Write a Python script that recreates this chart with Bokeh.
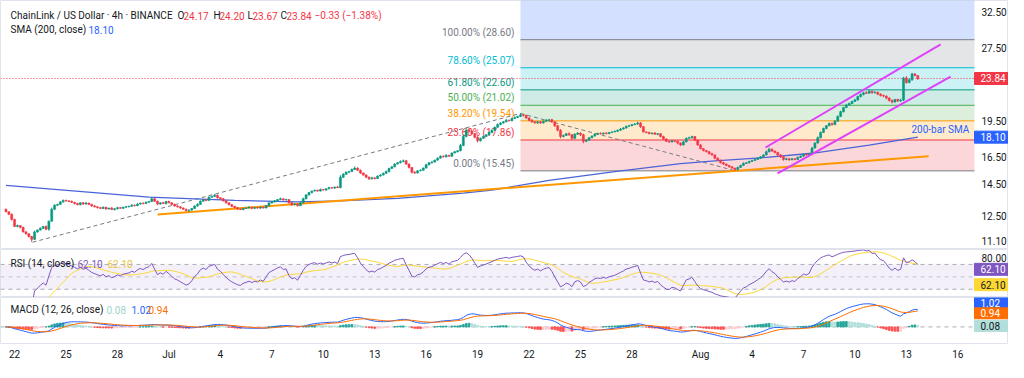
import numpy as np
import pandas as pd
from bokeh.plotting import figure
from bokeh.layouts import column
from bokeh.models import (ColumnDataSource, Range1d, FixedTicker, PrintfTickFormatter,
                          Label, LinearAxis, LogAxis)
from bokeh.core.properties import value
from bokeh.embed import file_html
from bokeh.resources import INLINE

# ---------------- data (4h candles, LINK/USD, 21 Jun 12:00 .. 13 Aug 16:00) ----------------
first_open = 12.9
closes = [
    12.75, 12.6, 12.3, 11.9, 11.95, 11.85, 11.6, 11.5, 11.35, 11.2,
    11.6, 11.7, 11.8, 11.9, 11.75, 12.2, 12.9, 13.15, 13.2, 13.35,
    13.45, 13.42, 13.38, 13.32, 13.25, 13.18, 13.3, 13.22, 13.28, 13.2,
    13.1, 13.05, 13.0, 12.95, 13.02, 12.92, 12.97, 12.88, 12.93, 13.0,
    12.96, 13.03, 13.06, 13.08, 13.15, 13.12, 13.22, 13.28, 13.25, 13.33,
    13.38, 13.55, 13.4, 13.22, 13.3, 13.25, 13.38, 13.3, 13.2, 13.1,
    13.05, 12.98, 12.9, 12.82, 12.85, 12.95, 13.1, 13.2, 13.4, 13.5,
    13.45, 13.65, 13.7, 13.78, 13.62, 13.55, 13.42, 13.3, 13.18, 13.08,
    13.0, 12.92, 12.88, 12.95, 12.98, 13.02, 12.96, 13.0, 12.97, 13.03,
    12.98, 13.12, 13.28, 13.35, 13.42, 13.5, 13.55, 13.48, 13.5, 13.3,
    13.18, 13.22, 13.12, 13.3, 13.55, 13.8, 13.95, 14.05, 14.1, 14.05,
    14.15, 14.12, 14.2, 14.28, 14.25, 14.32, 14.28, 15.0, 15.2, 15.35,
    15.4, 15.55, 15.65, 15.5, 15.3, 15.15, 15.0, 14.88, 14.95, 14.9,
    15.08, 15.15, 15.28, 15.4, 15.62, 15.75, 15.95, 16.05, 16.15, 16.2,
    15.95, 15.7, 15.35, 15.3, 15.45, 15.5, 15.65, 15.9, 16.05, 16.1,
    16.25, 16.4, 16.55, 16.5, 16.62, 16.55, 16.8, 16.9, 16.98, 17.4,
    18.15, 18.7, 18.6, 18.4, 18.1, 17.8, 18.0, 18.15, 18.3, 18.5,
    18.7, 18.95, 19.2, 19.35, 19.45, 19.6, 19.55, 19.75, 19.85, 19.95,
    20.1, 20.05, 19.8, 19.6, 19.45, 19.35, 19.45, 19.35, 19.5, 19.6,
    19.65, 19.45, 19.1, 18.7, 18.15, 18.25, 18.4, 18.3, 18.0, 18.35,
    18.45, 18.3, 17.75, 17.85, 18.05, 18.2, 18.35, 18.42, 18.38, 18.45,
    18.4, 18.5, 18.55, 18.6, 18.7, 18.8, 18.9, 19.05, 19.1, 19.2,
    19.25, 19.35, 19.0, 18.55, 18.5, 18.4, 18.45, 18.35, 18.4, 18.15,
    17.95, 17.75, 17.7, 17.8, 17.75, 17.6, 17.45, 17.7, 18.0, 18.05,
    18.15, 17.85, 17.45, 17.15, 17.0, 16.9, 16.75, 16.65, 16.4, 16.25,
    16.05, 15.95, 15.85, 15.75, 15.65, 15.55, 15.7, 15.85, 16.0, 16.05,
    16.15, 16.22, 16.3, 16.4, 16.5, 16.65, 16.9, 17.1, 16.95, 16.85,
    16.65, 16.5, 16.3, 16.35, 16.28, 16.35, 16.3, 16.45, 16.55, 16.7,
    16.65, 16.75, 17.2, 17.6, 18.05, 18.5, 18.85, 19.1, 19.3, 19.2,
    19.5, 19.95, 20.4, 20.8, 21.05, 21.2, 21.4, 21.55, 21.9, 22.1,
    22.3, 22.25, 22.45, 22.3, 22.35, 22.15, 22.0, 21.95, 21.75, 21.5,
    21.35, 21.6, 21.45, 21.55, 23.9, 23.4, 23.7, 24.35, 24.17, 23.84,
]
# wick beyond the body, in tenths of a percent
up_wick = [
    3, 2, 4, 3, 5, 2, 3, 4, 2, 3, 6, 3, 4, 2, 5, 3, 8, 4, 3, 5,
    4, 3, 2, 5, 3, 4, 2, 3, 5, 2, 3, 4, 2, 3, 4, 3, 2, 5, 3, 4,
    3, 2, 4, 3, 5, 3, 4, 2, 3, 4, 3, 9, 4, 3, 2, 5, 3, 4, 2, 3,
    4, 3, 2, 3, 4, 2, 3, 5, 4, 3, 2, 4, 3, 6, 3, 2, 4, 3, 2, 3,
    2, 3, 4, 2, 3, 5, 2, 3, 4, 3, 2, 3, 5, 3, 4, 2, 6, 3, 4, 2,
    3, 4, 2, 3, 5, 4, 3, 2, 4, 3, 5, 2, 3, 4, 3, 2, 5, 9, 6, 4,
    3, 5, 8, 4, 3, 2, 4, 3, 5, 2, 3, 4, 3, 5, 4, 3, 4, 3, 5, 6,
    4, 3, 2, 5, 3, 4, 3, 5, 3, 4, 2, 3, 4, 3, 5, 2, 3, 4, 3, 8,
    9, 12, 5, 4, 3, 4, 3, 5, 3, 4, 3, 4, 5, 3, 4, 6, 3, 4, 5, 3,
    7, 4, 3, 4, 5, 3, 4, 3, 4, 6, 3, 4, 2, 3, 5, 4, 3, 6, 4, 5,
    4, 3, 5, 4, 3, 2, 4, 3, 5, 3, 4, 2, 3, 4, 3, 5, 4, 3, 4, 3,
    5, 6, 4, 3, 2, 4, 3, 5, 3, 2, 4, 3, 5, 3, 2, 4, 3, 6, 4, 5,
    4, 3, 2, 4, 3, 2, 3, 4, 2, 3, 2, 4, 3, 2, 3, 2, 4, 3, 5, 3,
    3, 4, 3, 5, 4, 3, 6, 8, 4, 3, 2, 4, 3, 5, 3, 4, 3, 5, 4, 3,
    4, 3, 5, 4, 6, 5, 4, 3, 5, 4, 6, 5, 4, 3, 5, 4, 3, 6, 4, 5,
    4, 6, 8, 4, 5, 3, 4, 5, 3, 4, 5, 3, 4, 6, 5, 8, 7, 6, 4, 1,
]
down_wick = [
    2, 4, 5, 3, 4, 5, 3, 4, 5, 12, 3, 4, 3, 4, 5, 8, 3, 4, 3, 2,
    3, 4, 3, 2, 4, 3, 3, 4, 2, 3, 4, 3, 4, 2, 3, 4, 3, 2, 4, 3,
    2, 3, 3, 4, 2, 3, 2, 3, 4, 2, 3, 3, 4, 5, 3, 2, 4, 3, 4, 3,
    3, 4, 3, 4, 6, 3, 2, 3, 2, 3, 4, 2, 3, 2, 4, 3, 3, 4, 3, 4,
    3, 4, 2, 3, 3, 2, 4, 3, 2, 4, 3, 2, 3, 2, 3, 4, 2, 3, 3, 4,
    5, 3, 4, 2, 3, 2, 3, 4, 2, 3, 2, 3, 4, 2, 3, 4, 2, 3, 4, 3,
    4, 2, 3, 4, 5, 3, 4, 5, 3, 4, 2, 3, 2, 3, 4, 2, 3, 2, 3, 4,
    4, 5, 6, 4, 3, 2, 3, 2, 3, 4, 2, 3, 2, 3, 3, 2, 3, 2, 3, 2,
    3, 4, 6, 5, 6, 8, 4, 3, 2, 3, 4, 3, 2, 3, 4, 3, 4, 3, 2, 3,
    3, 5, 4, 5, 4, 3, 4, 5, 3, 4, 3, 5, 6, 5, 8, 4, 3, 5, 7, 4,
    3, 5, 9, 4, 3, 2, 3, 4, 3, 4, 3, 2, 3, 2, 3, 2, 3, 4, 3, 2,
    3, 4, 5, 3, 4, 3, 4, 3, 5, 4, 5, 3, 4, 3, 4, 6, 5, 3, 2, 3,
    4, 5, 4, 3, 4, 3, 4, 3, 5, 4, 3, 4, 3, 4, 3, 6, 4, 3, 2, 3,
    3, 2, 3, 2, 3, 2, 3, 3, 4, 5, 4, 5, 6, 4, 5, 3, 4, 3, 2, 3,
    4, 3, 2, 3, 2, 3, 2, 4, 3, 5, 3, 2, 3, 4, 3, 4, 3, 2, 3, 4,
    3, 4, 3, 5, 4, 5, 4, 5, 6, 5, 7, 4, 5, 4, 5, 6, 4, 5, 4, 7,
]

# 200-bar SMA (candle index -> value)
sma_idx = [0, 50, 80, 102, 117, 137, 160, 170, 190, 213, 236, 248, 266, 282, 302, 319]
sma_val = [14.43, 13.66, 13.45, 13.35, 13.42, 13.58, 13.91, 14.11, 14.77, 15.40,
           15.99, 16.19, 16.46, 16.78, 17.43, 18.10]

# Fibonacci retracement
fib_names = ["0.00%", "23.60%", "38.20%", "50.00%", "61.80%", "78.60%", "100.00%"]
fib_levels = [15.45, 17.86, 19.54, 21.02, 22.60, 25.07, 28.60]
fib_next = 36.73            # 161.8% level (above the visible area)
fib_start_day = 29.5

# drawn lines (day, price)
chan_up_d, chan_up_p = [43.79, 54.0], [17.24, 27.97]
chan_lo_d, chan_lo_p = [44.49, 54.58], [15.26, 24.06]
supp_d, supp_p = [8.34, 53.3], [12.59, 16.55]
swing1_d, swing1_p = [1.05, 29.5], [11.05, 20.23]
swing2_d, swing2_p = [29.5, 42.04], [20.23, 15.45]

price_ticks = [11.10, 12.50, 14.50, 16.50, 19.50, 27.50, 32.50]
rsi_ticks = [80]
rsi_bands = [70, 50, 30]
x_tick_days = [0, 3, 6, 9, 12, 15, 18, 21, 24, 27, 30, 33, 36, 40, 43, 46, 49, 52, 55]
x_tick_text = ["22", "25", "28", "Jul", "4", "7", "10", "13", "16", "19", "22", "25", "28",
               "Aug", "4", "7", "10", "13", "16"]

last_close = 23.84
sma_last = 18.10
rsi_last, rsi_ma_last = 62.10, 62.10
macd_last, signal_last, hist_last = 1.02, 0.94, 0.08

# ---------------- derived series ----------------
c = np.array(closes)
n = len(c)
o = np.concatenate([[first_open], c[:-1]])
h = np.maximum(o, c) * (1 + np.array(up_wick) / 1000.0)
l = np.minimum(o, c) * (1 - np.array(down_wick) / 1000.0)
t = -0.5 + np.arange(n) / 6.0
UP, DN = "#089981", "#f23645"
col = np.where(c >= o, UP, DN)
candles = ColumnDataSource(dict(t=t, o=o, c=c, h=h, l=l,
                                top=np.maximum(o, c), bot=np.minimum(o, c), col=col))

allp = pd.Series(np.concatenate([[first_open], c]))
d = allp.diff().iloc[1:].reset_index(drop=True)
ag = d.clip(lower=0).ewm(alpha=1 / 14, adjust=True).mean()
al = (-d).clip(lower=0).ewm(alpha=1 / 14, adjust=True).mean()
rsi = 100 - 100 / (1 + ag / al)
rsi_ma = rsi.rolling(14, min_periods=1).mean()

s = pd.Series(c)
macd = s.ewm(span=12, adjust=False).mean() - s.ewm(span=26, adjust=False).mean()
sig = macd.ewm(span=9, adjust=False).mean()
hist = macd - sig
prev = hist.shift(1).fillna(0)
hcol = [("#26a69a" if hv >= pv else "#b2dfdb") if hv >= 0 else ("#ffcdd2" if hv > pv else "#ff5252")
        for hv, pv in zip(hist, prev)]

# ---------------- layout ----------------
FONT = "Roboto"
W = 1008
PXD = 17.15                       # pixels per day
X0 = -0.82
SCALE_W = 34                      # width of the price-scale strip
EDGE = X0 + (W - SCALE_W) / PXD   # right edge of the chart area (days)
XR = Range1d(X0, X0 + W / PXD)


def dpx(px):
    """screen pixels from the left -> days"""
    return X0 + px / PXD


def make(height, yr, ytype="linear", bottom=0, xaxis=False):
    p = figure(width=W, height=height, x_range=XR, y_range=yr, y_axis_type=ytype,
               y_axis_location=None, x_axis_location="below" if xaxis else None,
               toolbar_location=None, output_backend="svg",
               min_border_left=0, min_border_right=0, min_border_top=0,
               min_border_bottom=bottom)
    p.grid.visible = False
    p.outline_line_color = "#e0e3eb"
    p.background_fill_color = "white"
    p.border_fill_color = "white"
    return p


def price_axis(p, ticks, log=False):
    Ax = LogAxis if log else LinearAxis
    ax = Ax(fixed_location=EDGE, ticker=FixedTicker(ticks=ticks),
            formatter=PrintfTickFormatter(format="%.2f"),
            axis_line_color=None, major_tick_line_color=None, minor_tick_line_color=None,
            major_tick_in=0, major_tick_out=0, major_label_standoff=7,
            major_label_text_font=FONT, major_label_text_font_size="10px",
            major_label_text_color="#131722")
    p.add_layout(ax, "right")


def tag(p, y, text, bg, fg="white", h=12):
    p.rect(x=[EDGE + (SCALE_W / 2) / PXD], y=[y], width=SCALE_W, height=h,
           width_units="screen", height_units="screen", fill_color=bg, line_color=bg)
    p.text(x=[EDGE + 6 / PXD], y=[y], text=[text], text_color=fg,
           text_align="left", text_baseline="middle", text_font=value(FONT),
           text_font_size="10px")


def stext(p, px, y, text, color="#131722", size="10px"):
    p.add_layout(Label(x=dpx(px), y=y, x_units="data", y_units="screen", text=text,
                       text_font=FONT, text_font_size=size, text_color=color,
                       text_align="left", text_baseline="middle"))


def hline(p, yv, color, dash="solid", alpha=1.0):
    p.segment(x0=X0, x1=EDGE, y0=yv, y1=yv, line_color=color, line_dash=dash,
              line_width=1, line_alpha=alpha)


# ---- main pane ----
MAIN_H = 249
p = make(MAIN_H, Range1d(10.68, 34.38), "log")

fib_fill = ["#f23645", "#ff9800", "#4caf50", "#089981", "#00bcd4", "#787b86", "#2962ff"]
fib_line = ["#787b86", "#f23645", "#ff9800", "#4caf50", "#089981", "#00bcd4", "#787b86"]
fsrc = ColumnDataSource(dict(bot=fib_levels, top=fib_levels[1:] + [fib_next], fill=fib_fill,
                             lev=fib_levels, lc=fib_line,
                             txt=[f"{nm} ({v:.2f})" for nm, v in zip(fib_names, fib_levels)]))
p.quad(left=fib_start_day, right=EDGE, bottom="bot", top="top", fill_color="fill",
       fill_alpha=0.2, line_color=None, source=fsrc)
p.segment(x0=fib_start_day, x1=EDGE, y0="lev", y1="lev", line_color="lc", line_width=1,
          source=fsrc)
p.text(x=fib_start_day - 0.35, y="lev", text="txt", text_color="lc", text_align="right",
       text_baseline="bottom", y_offset=-2, text_font=value(FONT), text_font_size="10px",
       source=fsrc)

hline(p, last_close, "#f23645", "1 2")

p.line(swing1_d, swing1_p, line_color="#787b86", line_dash="4 3", line_width=1)
p.line(swing2_d, swing2_p, line_color="#787b86", line_dash="4 3", line_width=1)

sma_t = [-0.5 + i / 6.0 for i in sma_idx]
p.line(sma_t, sma_val, line_color="#4a64d8", line_width=1.3)
p.line(supp_d, supp_p, line_color="#ff9800", line_width=2)

p.segment(x0="t", x1="t", y0="l", y1="h", line_color="col", line_width=1, source=candles)
p.vbar(x="t", width=0.72 / 6, top="top", bottom="bot", fill_color="col", line_color="col",
       line_width=0.5, source=candles)

p.line(chan_up_d, chan_up_p, line_color="#e040fb", line_width=2)
p.line(chan_lo_d, chan_lo_p, line_color="#e040fb", line_width=2)

p.text(x=[dpx(911)], y=[18.76], text=["200-bar SMA"], text_color="#2962ff", text_align="left",
       text_baseline="middle", text_font=value(FONT), text_font_size="10px")

price_axis(p, price_ticks, log=True)
tag(p, last_close, f"{last_close:.2f}", "#f23645")
tag(p, sma_last, f"{sma_last:.2f}", "#2962ff")

y1 = MAIN_H - 15
stext(p, 10, y1, "ChainLink / US Dollar · 4h · BINANCE")
for xx, tx, cc in [(177, "O", "#131722"), (183, "24.17", DN), (213, "H", "#131722"),
                   (219, "24.20", DN), (247, "L", "#131722"), (252, "23.67", DN),
                   (280, "C", "#131722"), (286, "23.84", DN), (314, "−0.33 (−1.38%)", DN)]:
    stext(p, xx, y1, tx, cc)
stext(p, 10, MAIN_H - 29, "SMA (200, close)")
stext(p, 88, MAIN_H - 29, f"{sma_last:.2f}", "#2962ff")

# ---- RSI pane ----
RSI_H = 48
r = make(RSI_H, Range1d(16.8, 94))
r.quad(left=X0, right=EDGE, bottom=min(rsi_bands), top=max(rsi_bands), fill_color="#7e57c2",
       fill_alpha=0.09, line_color=None)
for lv in rsi_bands:
    hline(r, lv, "#9598a1", "4 4", 0.8 if lv != 50 else 0.5)
r.line(t, rsi_ma, line_color="#fdd835", line_width=1)
r.line(t, rsi, line_color="#7e57c2", line_width=1)
price_axis(r, rsi_ticks)
tag(r, rsi_last, f"{rsi_last:.2f}", "#7e57c2")
tag(r, 37.4, f"{rsi_ma_last:.2f}", "#fdd835", "#131722")
ry = RSI_H - 14
stext(r, 10, ry, "RSI (14, close)")
stext(r, 77, ry, f"{rsi_last:.2f}", "#7e57c2")
stext(r, 107, ry, f"{rsi_ma_last:.2f}", "#e8c53a")

# ---- MACD pane ----
MACD_FRAME = 47
MACD_TOP, MACD_BOT = 1.67, -0.94
UPP = (MACD_TOP - MACD_BOT) / MACD_FRAME      # MACD units per pixel
m = make(MACD_FRAME + 18, Range1d(MACD_BOT, MACD_TOP), bottom=18, xaxis=True)
hline(m, 0, "#9598a1", "4 4", 0.8)
m.vbar(x=t, width=0.6 / 6, top=hist.values, bottom=0, fill_color=hcol, line_color=hcol)
m.line(t, macd, line_color="#2962ff", line_width=1)
m.line(t, sig, line_color="#ff6d00", line_width=1)
price_axis(m, [])
# the MACD tag is pushed up against the pane top by the signal tag (as on the chart)
tag(m, MACD_TOP - 5.5 * UPP, f"{macd_last:.2f}", "#2962ff", h=11)
tag(m, signal_last - 3 * UPP, f"{signal_last:.2f}", "#ff6d00", h=11)
tag(m, 0.06, f"{hist_last:.2f}", "#b2dfdb", "#131722", h=11)
my = MACD_FRAME - 13
stext(m, 10, my, "MACD (12, 26, close)")
stext(m, 106, my, f"{hist_last:.2f}", "#9fd3cc")
stext(m, 131, my, f"{macd_last:.2f}", "#2962ff")
stext(m, 148, my, f"{signal_last:.2f}", "#ff6d00")

xa = m.xaxis[0]
xa.ticker = FixedTicker(ticks=x_tick_days)
xa.major_label_overrides = {d_: s_ for d_, s_ in zip(x_tick_days, x_tick_text)}
xa.axis_line_color = None
xa.major_tick_line_color = None
xa.major_tick_out = 0
xa.minor_tick_line_color = None
xa.major_label_text_font = FONT
xa.major_label_text_font_size = "10px"
xa.major_label_text_color = "#131722"
xa.major_label_standoff = 5

layout = column(p, r, m, spacing=0)
open("out.html", "w").write(file_html(layout, INLINE))
